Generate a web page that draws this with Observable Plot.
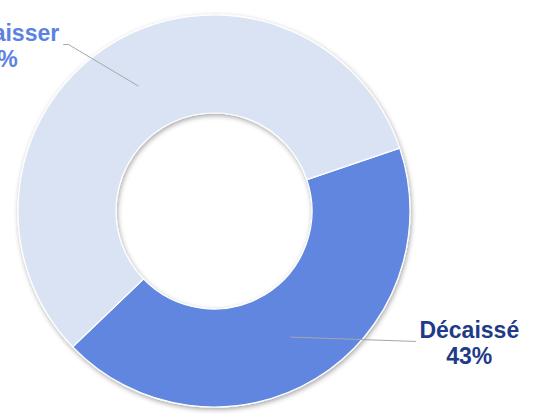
<!DOCTYPE html>
<html>
<head>
<meta charset="utf-8">
<script src="https://cdn.jsdelivr.net/npm/d3@7"></script>
<script src="https://cdn.jsdelivr.net/npm/@observablehq/plot@0.6"></script>
<style>
  html, body { margin: 0; padding: 0; background: #fff; }
  #chart svg { display: block; }
</style>
</head>
<body>
<div id="chart"></div>
<script>
// ---- data ----
const categories = ["Décaissé", "À décaisser"];
const values = [43, 57];
const percentLabels = ["43%", "57%"];

// ---- styling / layout ----
const sliceColors = ["#6086E0", "#DAE3F3"];
const labelColors = ["#1F3A88", "#5B82E0"];
const startDeg = 71.3;           // first slice starts here (clockwise from 12 o'clock)
const innerRatio = 0.5;
const labelPos = [[1.30, -0.671], [-1.122, 0.844]];          // label centres (data units)
const leaderEnds = [[[1.026, -0.663]], [[-0.745, 0.852], [-0.770, 0.852]]];

const start = startDeg * Math.PI / 180;
const pieData = d3.pie().sort(null).startAngle(start).endAngle(start + 2 * Math.PI)(values);

// leader lines: from mid-ring at the slice mid-angle to the label
const leaderPts = [];
pieData.forEach((p, i) => {
  const a = (p.startAngle + p.endAngle) / 2;
  const rm = (innerRatio + 1) / 2;
  leaderPts.push({k: i, x: rm * Math.sin(a), y: rm * Math.cos(a)});
  leaderEnds[i].forEach(([x, y]) => leaderPts.push({k: i, x, y}));
});

const labels = categories.map((c, i) => ({
  text: c + "\n" + percentLabels[i], x: labelPos[i][0], y: labelPos[i][1], color: labelColors[i]
}));

function donut(index, scales) {
  const {x, y} = scales;
  const cx = x(0), cy = y(0), r = x(1) - x(0);
  const arc = d3.arc().innerRadius(r * innerRatio).outerRadius(r);
  const g = d3.create("svg:g");
  const defs = g.append("defs");
  const f = defs.append("filter").attr("id", "shadow")
    .attr("x", "-20%").attr("y", "-20%").attr("width", "140%").attr("height", "140%");
  f.append("feDropShadow").attr("dx", 1).attr("dy", 2).attr("stdDeviation", 2.5)
    .attr("flood-color", "#000").attr("flood-opacity", 0.35);
  g.append("g").attr("transform", `translate(${cx},${cy})`).attr("filter", "url(#shadow)")
    .selectAll("path").data(pieData).join("path")
    .attr("d", arc)
    .attr("fill", (d, i) => sliceColors[i])
    .attr("stroke", "#fff").attr("stroke-width", 1.2).attr("stroke-linejoin", "round");
  return g.node();
}

const chart = Plot.plot({
  width: 539,
  height: 414,
  marginLeft: 18,
  marginRight: 129,
  marginTop: 15,
  marginBottom: 7,
  x: {domain: [-1, 1], axis: null},
  y: {domain: [-1, 1], axis: null},
  style: {fontFamily: "'Liberation Sans', Arial, sans-serif", background: "#fff"},
  marks: [
    donut,
    Plot.line(leaderPts, {x: "x", y: "y", z: "k", stroke: "#A6A6A6", strokeWidth: 1}),
    Plot.text(labels, {
      x: "x", y: "y", text: "text", fill: "color",
      fontSize: 23, fontWeight: "bold", lineHeight: 1.13, textAnchor: "middle"
    })
  ]
});
document.getElementById("chart").appendChild(chart);
</script>
</body>
</html>
